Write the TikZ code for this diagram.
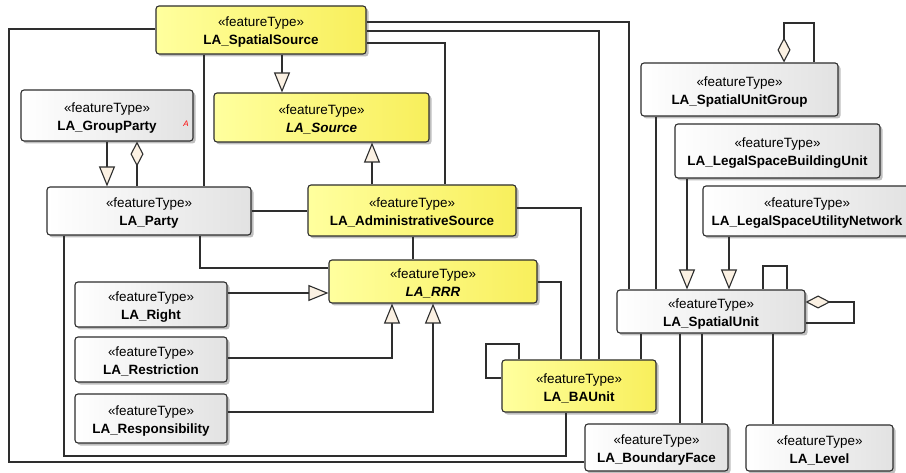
\documentclass[tikz,border=0pt]{standalone}
\usepackage{fontspec}
\setmainfont{Liberation Sans}
\usetikzlibrary{arrows.meta,shadows}
\definecolor{ylL}{HTML}{FFFF9E}
\definecolor{ylR}{HTML}{F8EF5C}
\definecolor{grL}{HTML}{FFFFFF}
\definecolor{grR}{HTML}{E2E2E2}
\definecolor{cream}{HTML}{FBF1E3}
\definecolor{ln}{HTML}{2E2E2E}
\tikzset{
  cls/.style={draw=ln, line width=1.1bp, rounded corners=3bp, inner sep=0pt, align=center,
    font=\fontsize{13.5}{18}\selectfont,
    drop shadow={shadow xshift=2.5bp, shadow yshift=-2.5bp, opacity=0.25, fill=black}},
  yel/.style={cls, left color=ylL, right color=ylR},
  gry/.style={cls, left color=grL, right color=grR},
  conn/.style={draw=ln, line width=1.1bp},
  gen/.style={conn, -{Triangle[length=20bp,width=16bp,fill=cream]}},
  agg/.style={conn, {Diamond[length=25bp,width=13bp,fill=cream]}-},
}
\newcommand{\ft}[1]{\rule{0pt}{14bp}\guillemotleft featureType\guillemotright\\\textbf{#1}}
\newcommand{\fti}[1]{\rule{0pt}{14bp}\guillemotleft featureType\guillemotright\\\textbf{\itshape #1}}
\begin{document}
\begin{tikzpicture}[x=1bp,y=-1bp]
\useasboundingbox (0,0) rectangle (906,473);
\clip (0,0) rectangle (906,473);
\fill[white] (0,0) rectangle (906,473);
% nodes
\node[yel, minimum width=210bp, minimum height=48bp] (SS) at (261,30) {\ft{LA\_SpatialSource}};
\node[gry, minimum width=172bp, minimum height=51bp] (GP) at (107,115.5) {\ft{LA\_GroupParty}};
\node[yel, minimum width=215bp, minimum height=49bp] (Src) at (321.5,117.5) {\fti{LA\_Source}};
\node[gry, minimum width=204bp, minimum height=48bp] (Party) at (149,211) {\ft{LA\_Party}};
\node[yel, minimum width=208bp, minimum height=51bp] (Adm) at (412,210.5) {\ft{LA\_AdministrativeSource}};
\node[yel, minimum width=208bp, minimum height=43bp] (RRR) at (433,281.5) {\fti{LA\_RRR}};
\node[gry, minimum width=152bp, minimum height=45bp] (Right) at (151,304.5) {\ft{LA\_Right}};
\node[gry, minimum width=152bp, minimum height=45bp] (Restr) at (151,359.5) {\ft{LA\_Restriction}};
\node[gry, minimum width=152bp, minimum height=49bp] (Resp) at (151,418.5) {\ft{LA\_Responsibility}};
\node[yel, minimum width=154bp, minimum height=52bp] (BAU) at (579,386) {\ft{LA\_BAUnit}};
\node[gry, minimum width=197bp, minimum height=53bp] (SUG) at (739.5,89.5) {\ft{LA\_SpatialUnitGroup}};
\node[gry, minimum width=205bp, minimum height=54bp] (LSBU) at (777.5,151) {\ft{LA\_LegalSpaceBuildingUnit}};
\node[gry, minimum width=208bp, minimum height=50bp] (LSUN) at (807,211) {\ft{LA\_LegalSpaceUtilityNetwork}};
\node[gry, minimum width=188bp, minimum height=43bp] (SU) at (711,311.5) {\ft{LA\_SpatialUnit}};
\node[gry, minimum width=143bp, minimum height=47bp] (BF) at (656.5,447.5) {\ft{LA\_BoundaryFace}};
\node[gry, minimum width=147bp, minimum height=46bp] (Lvl) at (819.5,448) {\ft{LA\_Level}};
\node[text=red, font=\fontsize{8}{8}\selectfont\itshape] (GPa) at (186,124) {A};
% connectors
\draw[gen] (282,0 |- SS.south) -- (282,0 |- Src.north);
\draw[gen] (372,0 |- Adm.north) -- (372,0 |- Src.south);
\draw[gen] (107,0 |- GP.south) -- (107,0 |- Party.north);
\draw[agg] (137,0 |- GP.south) -- (137,0 |- Party.north);
\draw[conn] (204,0 |- SS.south) -- (204,0 |- Party.north);
\draw[conn] (SS.east |- 0,43) -| (445,0 |- Adm.north);
\draw[conn] (SS.east |- 0,22) -| (629,0 |- SU.north);
\draw[conn] (SS.east |- 0,31) -| (599,0 |- BAU.north);
\draw[conn] (SS.west |- 0,29) -- (9,29) -- (9,462) -- (BF.west |- 0,462);
\draw[conn] (Party.east |- 0,211) -- (Adm.west |- 0,211);
\draw[conn] (200,0 |- Party.south) |- (RRR.west |- 0,268);
\draw[conn] (64,0 |- Party.south) -- (64,456) -| (566,0 |- BAU.south);
\draw[conn] (413,0 |- Adm.south) -- (413,0 |- RRR.north);
\draw[conn] (Adm.east |- 0,208) -| (581,0 |- BAU.north);
\draw[gen] (Right.east |- 0,293) -- (RRR.west |- 0,293);
\draw[gen] (Restr.east |- 0,358) -| (392,0 |- RRR.south);
\draw[gen] (Resp.east |- 0,412) -| (433,0 |- RRR.south);
\draw[conn] (RRR.east |- 0,282) -| (561,0 |- BAU.north);
\draw[conn] (519,0 |- BAU.north) -- (519,344) -- (486,344) -- (486,378) -- (BAU.west |- 0,378);
\draw[conn] (641,0 |- SU.south) -- (641,0 |- BAU.north);
\draw[conn] (656,0 |- SUG.south) -- (656,0 |- SU.north);
\draw[gen] (687,0 |- LSBU.south) -- (687,0 |- SU.north);
\draw[gen] (729,0 |- LSUN.south) -- (729,0 |- SU.north);
\draw[conn] (763,0 |- SU.north) -- (763,266) -- (787,266) -- (787,0 |- SU.north);
\draw[agg] (SU.east |- 0,302) -- (854,302) -- (854,323) -- (SU.east |- 0,323);
\draw[agg] (784,0 |- SUG.north) -- (784,23) -- (814,23) -- (814,0 |- SUG.north);
\draw[conn] (680,0 |- SU.south) -- (680,0 |- BF.north);
\draw[conn] (702,0 |- SU.south) -- (702,0 |- BF.north);
\draw[conn] (773,0 |- SU.south) -- (773,0 |- Lvl.north);
\end{tikzpicture}
\end{document}
